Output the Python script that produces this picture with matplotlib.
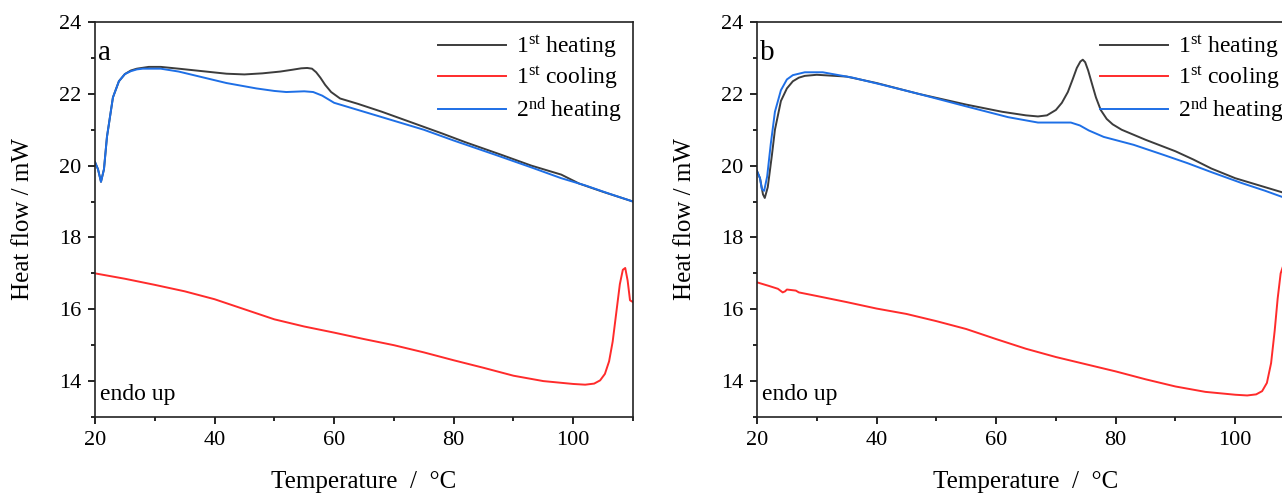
import matplotlib
matplotlib.use("Agg")
import matplotlib.pyplot as plt
from matplotlib.ticker import MultipleLocator

plt.rcParams['font.family'] = ['Liberation Serif', 'DejaVu Serif']
plt.rcParams['mathtext.fontset'] = 'custom'
plt.rcParams['mathtext.rm'] = 'Liberation Serif'
plt.rcParams['mathtext.it'] = 'Liberation Serif:italic'

# ---- panel a ----
a_heat1_T = [20, 20.5, 21, 21.5, 22, 23, 24, 25, 26, 27, 29, 31, 34, 38, 42, 45, 48, 51, 53, 54.5, 55.5, 56.3, 57, 57.7, 58.5, 59.5, 61, 64, 68, 73, 78, 82, 88, 93, 98, 101, 105, 110]
a_heat1_Q = [20.1, 19.9, 19.55, 19.9, 20.8, 21.9, 22.35, 22.55, 22.65, 22.7, 22.75, 22.75, 22.7, 22.63, 22.56, 22.54, 22.57, 22.62, 22.67, 22.71, 22.72, 22.7, 22.6, 22.45, 22.25, 22.05, 21.87, 21.72, 21.5, 21.2, 20.9, 20.65, 20.3, 20.0, 19.75, 19.5, 19.27, 19.0]

a_heat2_T = [20, 20.5, 21, 21.5, 22, 23, 24, 25, 26, 27, 28, 31, 34, 37, 42, 47, 50, 52, 55, 56.5, 58, 60, 64, 69, 75, 80, 87, 93, 98, 102, 106, 110]
a_heat2_Q = [20.1, 19.9, 19.55, 19.9, 20.8, 21.9, 22.35, 22.55, 22.63, 22.68, 22.7, 22.7, 22.62, 22.5, 22.3, 22.15, 22.08, 22.05, 22.07, 22.05, 21.95, 21.75, 21.55, 21.3, 21.0, 20.7, 20.3, 19.95, 19.65, 19.45, 19.22, 19.0]

a_cool_T = [20, 25, 30, 35, 40, 45, 50, 55, 60, 65, 70, 75, 80, 85, 90, 95, 100, 102, 103.5, 104.5, 105.3, 106, 106.6, 107.2, 107.8, 108.3, 108.7, 109.1, 109.5, 110]
a_cool_Q = [17.0, 16.85, 16.68, 16.5, 16.28, 16.0, 15.72, 15.52, 15.35, 15.17, 15.0, 14.8, 14.58, 14.37, 14.15, 14.0, 13.92, 13.9, 13.93, 14.02, 14.2, 14.55, 15.1, 15.9, 16.7, 17.1, 17.15, 16.8, 16.25, 16.2]

# ---- panel b ----
b_heat1_T = [20, 20.5, 21, 21.3, 21.8, 22.5, 23, 24, 25, 26, 27, 28, 30, 35, 40, 47, 55, 61, 65, 67, 68.5, 70, 71, 72, 72.8, 73.5, 74.1, 74.5, 74.9, 75.4, 76, 76.7, 77.5, 78.5, 79.5, 81, 85, 90, 93, 96, 100, 104, 108, 110]
b_heat1_Q = [19.85, 19.65, 19.2, 19.1, 19.4, 20.3, 21.0, 21.8, 22.15, 22.35, 22.45, 22.5, 22.53, 22.48, 22.3, 22.0, 21.7, 21.5, 21.4, 21.37, 21.4, 21.55, 21.75, 22.05, 22.4, 22.72, 22.9, 22.95, 22.88, 22.65, 22.3, 21.9, 21.55, 21.3, 21.15, 21.0, 20.72, 20.4, 20.17, 19.92, 19.65, 19.45, 19.25, 19.15]

b_heat2_T = [20, 20.5, 20.8, 21.2, 21.7, 22.3, 23, 24, 25, 26, 28, 31, 36, 41, 47, 55, 62, 67, 70, 72.5, 74, 75.5, 78, 83, 88, 92, 96, 101, 105, 108, 110]
b_heat2_Q = [19.85, 19.65, 19.35, 19.3, 19.7, 20.6, 21.5, 22.1, 22.4, 22.52, 22.6, 22.6, 22.45, 22.25, 22.0, 21.65, 21.35, 21.2, 21.2, 21.2, 21.12, 20.98, 20.8, 20.58, 20.3, 20.07, 19.82, 19.52, 19.3, 19.12, 19.02]

b_cool_T = [20, 22, 23.5, 24.3, 24.7, 25, 26.5, 27, 30, 35, 40, 45, 50, 55, 60, 65, 70, 75, 80, 85, 90, 95, 100, 102, 103.5, 104.5, 105.3, 106, 106.6, 107.1, 107.6, 108.2, 108.7, 109.2, 110]
b_cool_Q = [16.75, 16.65, 16.57, 16.47, 16.5, 16.55, 16.52, 16.47, 16.37, 16.2, 16.02, 15.87, 15.67, 15.45, 15.17, 14.9, 14.67, 14.47, 14.27, 14.05, 13.85, 13.7, 13.62, 13.6, 13.63, 13.72, 13.95, 14.5, 15.4, 16.3, 17.0, 17.3, 17.1, 16.6, 16.4]

labels = ['1$^{\\mathrm{st}}$ heating', '1$^{\\mathrm{st}}$ cooling', '2$^{\\mathrm{nd}}$ heating']
colors = ['#3c3c3c', '#ff2b2b', '#1e6fe6']

W, H = 1282, 493
fig = plt.figure(figsize=(W / 100, H / 100), dpi=100)

def make_ax(left_px, panel, heat1, cool, heat2):
    ax = fig.add_axes([left_px / W, 1 - 417 / H, 538 / W, (417 - 22) / H])
    for (T, Q), lab, c in zip([heat1, cool, heat2], labels, colors):
        ax.plot(T, Q, color=c, lw=1.4, label=lab)
    ax.set_xlim(20, 110)
    ax.set_ylim(13, 24)
    ax.xaxis.set_major_locator(MultipleLocator(20))
    ax.xaxis.set_minor_locator(MultipleLocator(10))
    ax.yaxis.set_major_locator(MultipleLocator(2))
    ax.yaxis.set_minor_locator(MultipleLocator(1))
    ax.tick_params(which='both', direction='out', top=False, right=False, labelsize=16, width=1.2)
    ax.tick_params(which='major', length=5, pad=5)
    ax.tick_params(which='minor', length=3)
    for s in ax.spines.values():
        s.set_linewidth(1.2)
        s.set_color('#222222')
    ax.set_xlabel('Temperature  /  °C', fontsize=18, labelpad=15)
    ax.set_ylabel('Heat flow / mW', fontsize=18, labelpad=18)
    ax.text(0.005, 0.955, panel, transform=ax.transAxes, fontsize=21, va='top', ha='left')
    ax.text(0.01, 0.03, 'endo up', transform=ax.transAxes, fontsize=17, va='bottom', ha='left')
    ax.legend(loc='upper right', bbox_to_anchor=(1.0, 1.0), frameon=False, fontsize=17,
              handlelength=2.9, handletextpad=0.4, labelspacing=0.2, borderaxespad=0.08)
    return ax

make_ax(95, 'a', (a_heat1_T, a_heat1_Q), (a_cool_T, a_cool_Q), (a_heat2_T, a_heat2_Q))
make_ax(757, 'b', (b_heat1_T, b_heat1_Q), (b_cool_T, b_cool_Q), (b_heat2_T, b_heat2_Q))

fig.savefig('out.png', dpi=100)
